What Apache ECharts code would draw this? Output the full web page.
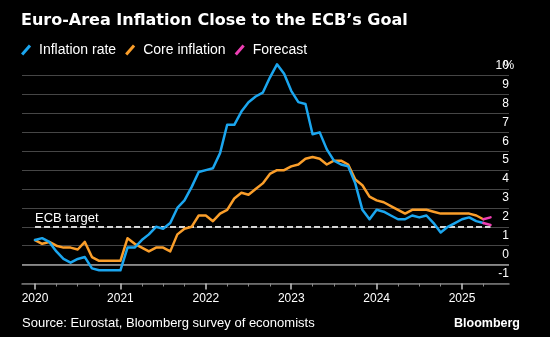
<!DOCTYPE html>
<html>
<head>
<meta charset="utf-8">
<script src="https://cdn.jsdelivr.net/npm/echarts@6/dist/echarts.min.js"></script>
<style>
html,body{margin:0;padding:0;background:#000;}
#chart{width:550px;height:337px;}
</style>
</head>
<body>
<div id="chart"></div>
<script>
// ---- Data ----
const titleText = 'Euro-Area Inflation Close to the ECB\u2019s Goal';
const sourceText = 'Source: Eurostat, Bloomberg survey of economists';
const brandText = 'Bloomberg';

// Monthly observations, Dec 2019 .. Mar 2025 (plotted at month end)
const months = [];
for (let y = 2019; y <= 2025; y++) {
  for (let m = 1; m <= 12; m++) {
    const key = y + '-' + String(m).padStart(2, '0');
    if (key >= '2019-12' && key <= '2025-03') months.push(key);
  }
}
const inflationRate = [1.3,
  1.4, 1.2, 0.7, 0.3, 0.1, 0.3, 0.4, -0.2, -0.3, -0.3, -0.3, -0.3,
  0.9, 0.9, 1.3, 1.6, 2.0, 1.9, 2.2, 3.0, 3.4, 4.1, 4.9, 5.0,
  5.1, 5.9, 7.4, 7.4, 8.1, 8.6, 8.9, 9.1, 9.9, 10.6, 10.1, 9.2,
  8.6, 8.5, 6.9, 7.0, 6.1, 5.5, 5.3, 5.2, 4.3, 2.9, 2.4, 2.9,
  2.8, 2.6, 2.4, 2.4, 2.6, 2.5, 2.6, 2.2, 1.7, 2.0, 2.2, 2.4,
  2.5, 2.3, 2.2];
const coreInflation = [1.3,
  1.1, 1.2, 1.0, 0.9, 0.9, 0.8, 1.2, 0.4, 0.2, 0.2, 0.2, 0.2,
  1.4, 1.1, 0.9, 0.7, 0.9, 0.9, 0.7, 1.6, 1.9, 2.0, 2.6, 2.6,
  2.3, 2.7, 2.9, 3.5, 3.8, 3.7, 4.0, 4.3, 4.8, 5.0, 5.0, 5.2,
  5.3, 5.6, 5.7, 5.6, 5.3, 5.5, 5.5, 5.3, 4.5, 4.2, 3.6, 3.4,
  3.3, 3.1, 2.9, 2.7, 2.9, 2.9, 2.9, 2.8, 2.7, 2.7, 2.7, 2.7,
  2.7, 2.6, 2.4];
const forecastMonths = ['2025-03', '2025-04'];
const forecastHeadline = [2.2, 2.1];
const forecastCore = [2.4, 2.5];

const yearLabels = ['2020', '2021', '2022', '2023', '2024', '2025'];
const ecbTarget = 2;
const yMin = -1, yMax = 10, yStep = 1;

// ---- Helpers ----
const allMonths = months.concat(['2025-04']);
const pos = m => allMonths.indexOf(m);
// year tick = end of previous December
const yearPos = yearLabels.map(y => pos((+y - 1) + '-12'));
const quarterPos = allMonths.filter(m => /-(03|06|09)$/.test(m)).map(pos);

const C_BLUE = '#1ba6ef', C_ORANGE = '#fa9e2a', C_PINK = '#ee3fb4';
const FONT = 'Liberation Sans';
const ICON = 'path://M0,8 L7,0 L9,1.8 L2,9.8 Z';

const chart = echarts.init(document.getElementById('chart'), null, {renderer: 'canvas'});

const lineSeries = (name, data, color, z) => ({
  name, type: 'line', data, z, clip: false,
  symbol: 'none', showSymbol: false, smooth: false,
  itemStyle: {color},
  lineStyle: {color, width: 2.5, join: 'round', cap: 'round'},
  emphasis: {disabled: true},
  animation: false
});

const coreSeries = lineSeries('Core inflation', months.map((m, i) => [pos(m), coreInflation[i]]), C_ORANGE, 3);
coreSeries.markLine = {
  silent: true, symbol: 'none', z: 1, animation: false,
  data: [
    {yAxis: 0, lineStyle: {color: '#a0a0a0', type: 'solid', width: 1.5}, label: {show: false}},
    [
      {coord: [pos(months[0]), ecbTarget],
       lineStyle: {color: '#d6d6d6', type: [6, 3], width: 2},
       label: {show: true, formatter: 'ECB target', position: 'insideStartTop',
               color: '#fff', fontSize: 13, fontFamily: FONT, distance: [0, 2]}},
      {coord: [pos('2025-04'), ecbTarget]}
    ]
  ]
};

const option = {
  backgroundColor: '#000',
  animation: false,
  title: [
    {text: titleText, left: 21, top: 13, padding: 0,
     textStyle: {color: '#fff', fontFamily: 'DejaVu Sans', fontWeight: 'bold', fontSize: 16}},
    {text: sourceText, left: 22, top: 317, padding: 0,
     textStyle: {color: '#fff', fontFamily: FONT, fontWeight: 'normal', fontSize: 13}},
    {text: brandText, right: 30, top: 317, padding: 0,
     textStyle: {color: '#fff', fontFamily: FONT, fontWeight: 'bold', fontSize: 12.5}}
  ],
  legend: {
    left: 21, top: 43, padding: 0,
    itemWidth: 16, itemHeight: 11, itemGap: 9,
    selectedMode: false,
    textStyle: {color: '#fff', fontSize: 14, fontFamily: FONT},
    itemStyle: {borderWidth: 0},
    data: [
      {name: 'Inflation rate', icon: ICON},
      {name: 'Core inflation', icon: ICON},
      {name: 'Forecast', icon: ICON}
    ]
  },
  grid: {left: 22, right: 41, top: 75.7, bottom: 53.5, containLabel: false, outerBoundsMode: 'none'},
  xAxis: [
    {
      type: 'value', min: -1.83, max: 66.6, position: 'bottom',
      axisLine: {show: true, onZero: false, lineStyle: {color: '#7a7a7a', width: 1.5}},
      axisTick: {show: true, customValues: yearPos, length: 6, lineStyle: {color: '#c8c8c8', width: 1.5}},
      axisLabel: {show: true, customValues: yearPos, margin: 9, color: '#fff', fontSize: 12, fontFamily: FONT,
                  formatter: v => yearLabels[yearPos.indexOf(v)] || ''},
      splitLine: {show: false}
    },
    {
      type: 'value', min: -1.83, max: 66.6, position: 'bottom',
      axisLine: {show: false, onZero: false},
      axisTick: {show: true, customValues: quarterPos, length: 3, lineStyle: {color: '#8a8a8a', width: 1}},
      axisLabel: {show: false},
      splitLine: {show: false}
    }
  ],
  yAxis: {
    type: 'value', min: yMin, max: yMax, interval: yStep, position: 'right',
    axisLine: {show: false}, axisTick: {show: false},
    splitLine: {show: true, lineStyle: {color: '#464646', width: 1}},
    axisLabel: {
      inside: true, margin: 0, color: '#fff', fontSize: 12, fontFamily: FONT,
      verticalAlign: 'bottom', lineHeight: 14, padding: [0, 0, 3, 0],
      formatter: v => v === yMax ? v + '{p|%}' : String(v),
      rich: {p: {width: 0.1, align: 'left', color: '#fff', fontSize: 12, fontFamily: FONT, lineHeight: 14}}
    }
  },
  series: [
    coreSeries,
    lineSeries('Inflation rate', months.map((m, i) => [pos(m), inflationRate[i]]), C_BLUE, 4),
    lineSeries('Forecast', forecastMonths.map((m, i) => [pos(m), forecastCore[i]]), C_PINK, 5),
    lineSeries('Forecast', forecastMonths.map((m, i) => [pos(m), forecastHeadline[i]]), C_PINK, 5)
  ]
};
chart.setOption(option);
</script>
</body>
</html>
